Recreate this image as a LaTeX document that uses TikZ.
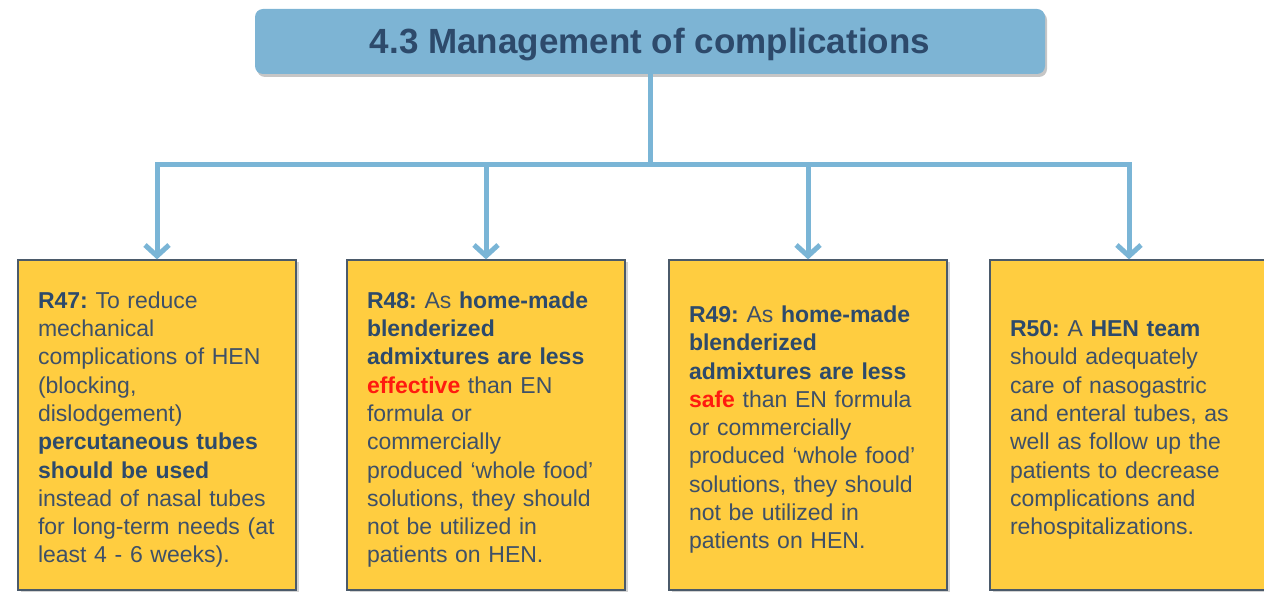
\documentclass[tikz,border=0pt]{standalone}
\usepackage{fontspec}
\setmainfont{Liberation Sans}
\usetikzlibrary{arrows.meta,positioning,shadows}
\definecolor{linkblue}{HTML}{7AB5D6}
\definecolor{titleblue}{HTML}{7DB4D4}
\definecolor{navy}{HTML}{2D4A6B}
\definecolor{slate}{HTML}{3E5068}
\definecolor{recyellow}{HTML}{FFCD40}
\definecolor{boxedge}{HTML}{4B5A6A}
\definecolor{hotred}{HTML}{FF1A0F}
\frenchspacing
\newcommand{\hl}[1]{\textbf{\color{navy}#1}}
\newcommand{\warn}[1]{\textbf{\color{hotred}#1}}
\newcommand{\toplift}[1]{\rule{0pt}{#1}}
\tikzset{
	link/.style={draw=linkblue, line width=5pt},
	linkarrow/.style={link, -{Straight Barb[length=11pt,width=24pt]}},
	titlebox/.style={fill=titleblue, rounded corners=8pt, minimum width=790pt,
		minimum height=65pt, text=navy, font=\fontsize{35}{40}\selectfont\bfseries,
		drop shadow={shadow xshift=2pt, shadow yshift=-3pt, opacity=0.45}},
	recbox/.style={draw=boxedge, line width=1.2pt, fill=recyellow, text=slate,
		text width=238pt, inner xsep=20pt, minimum height=330pt, align=left,
		font=\fontsize{23}{28.3}\selectfont,
		drop shadow={shadow xshift=3pt, shadow yshift=-2pt, opacity=0.35}},
}
\begin{document}
\begin{tikzpicture}[x=1pt, y=-1pt]
	\useasboundingbox (0,0) rectangle (1264,593);
	\node[titlebox] (title) at (650,41.5) {\toplift{32pt}4.3 Management of complications};
	\node[recbox] (r47) at (157,425) {\toplift{26pt}\hl{R47:} To reduce\\ mechanical\\ complications of HEN\\ (blocking,\\ dislodgement)\\ \hl{percutaneous tubes}\\ \hl{should be used}\\ instead of nasal tubes\\ for long-term needs (at\\ least 4 - 6 weeks).};
	\node[recbox] (r48) at (486,425) {\toplift{26pt}\hl{R48:} As \hl{home-made}\\ \hl{blenderized}\\ \hl{admixtures are less}\\ \warn{effective} than EN\\ formula or\\ commercially\\ produced ‘whole food’\\ solutions, they should\\ not be utilized in\\ patients on HEN.};
	\node[recbox] (r49) at (808,425) {\toplift{26pt}\hl{R49:} As \hl{home-made}\\ \hl{blenderized}\\ \hl{admixtures are less}\\ \warn{safe} than EN formula\\ or commercially\\ produced ‘whole food’\\ solutions, they should\\ not be utilized in\\ patients on HEN.};
	\node[recbox] (r50) at (1129,425) {\toplift{26pt}\hl{R50:} A \hl{HEN team}\\ should adequately\\ care of nasogastric\\ and enteral tubes, as\\ well as follow up the\\ patients to decrease\\ complications and\\ rehospitalizations.};
	% connectors
	\coordinate (bar) at (0,165);
	\coordinate (hub) at (title.south |- bar);
	\draw[link] (title.south) -- (hub);
	\draw[linkarrow] (hub) -| (r47.north);
	\draw[linkarrow] (hub) -| (r48.north);
	\draw[linkarrow] (hub) -| (r49.north);
	\draw[linkarrow] (hub) -| (r50.north);
\end{tikzpicture}
\end{document}
